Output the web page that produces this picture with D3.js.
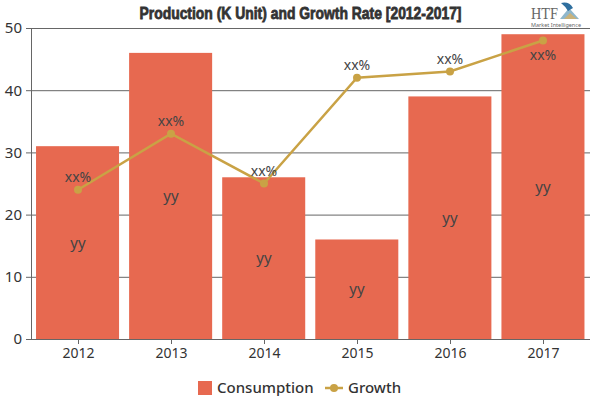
<!DOCTYPE html>
<html>
<head>
<meta charset="utf-8">
<script src="https://cdn.jsdelivr.net/npm/d3@7"></script>
<style>
html, body { margin: 0; padding: 0; background: #fff; }
svg { display: block; }
text { font-family: "Noto Sans", "Open Sans", sans-serif; }
</style>
</head>
<body>
<svg id="chart" width="600" height="400"></svg>
<script>
const years = ["2012", "2013", "2014", "2015", "2016", "2017"];
const consumption = [31, 46, 26, 16, 39, 49];
const growth = [24, 33, 25, 42, 43, 48];
const yTicks = [0, 10, 20, 30, 40, 50];

const BAR = "#e76950";
const LINE = "#c9a245";
const AXIS = "#666";
const TEXT = "#333";

const svg = d3.select("#chart");
const x = d3.scaleBand().domain(years).range([31, 589.5]).paddingInner(0.108).paddingOuter(0.054);
const xp = d3.scalePoint().domain(years).range([78, 543]);
const y = d3.scaleLinear().domain([0, 50]).range([339, 28]);

// grid
svg.append("g").selectAll("line")
    .data(yTicks.filter(d => d > 0))
    .enter().append("line")
    .attr("x1", 31).attr("x2", 590)
    .attr("y1", d => y(d) + 0.5).attr("y2", d => y(d) + 0.5)
    .attr("stroke", AXIS).attr("stroke-width", 1);

// bars
svg.append("g").selectAll("rect")
    .data(years)
    .enter().append("rect")
    .attr("x", d => x(d))
    .attr("width", x.bandwidth())
    .attr("y", (d, i) => y(consumption[i]))
    .attr("height", (d, i) => y(0) - y(consumption[i]))
    .attr("fill", BAR);

// axes
const xAxis = svg.append("g").attr("transform", "translate(0,339)")
    .call(d3.axisBottom(xp).tickSize(5).tickPadding(4));
xAxis.select(".domain").attr("d", "M31,0.5H590").attr("stroke", AXIS);
xAxis.selectAll("line").attr("stroke", AXIS);
xAxis.selectAll("text").attr("font-size", 14).attr("fill", TEXT).attr("font-family", "Noto Sans");

const yAxis = svg.append("g").attr("transform", "translate(31,0)")
    .call(d3.axisLeft(y).tickValues(yTicks).tickSize(5).tickPadding(4));
yAxis.select(".domain").attr("d", "M0.5,28V339").attr("stroke", AXIS);
yAxis.selectAll("line").attr("stroke", AXIS);
yAxis.selectAll("text").attr("font-size", 15).attr("fill", TEXT).attr("font-family", "Noto Sans");

// bar labels
svg.append("g").selectAll("text")
    .data(years)
    .enter().append("text")
    .attr("x", d => xp(d))
    .attr("y", (d, i) => (y(0) + y(consumption[i])) / 2 + 5)
    .attr("text-anchor", "middle")
    .attr("font-size", 15).attr("fill", "#444")
    .text("yy");

// growth line
const line = d3.line().x((d, i) => xp(years[i])).y(d => y(d));
svg.append("path")
    .attr("d", line(growth))
    .attr("fill", "none")
    .attr("stroke", LINE).attr("stroke-width", 2.5);

svg.append("g").selectAll("circle")
    .data(growth)
    .enter().append("circle")
    .attr("cx", (d, i) => xp(years[i]))
    .attr("cy", d => y(d))
    .attr("r", 4)
    .attr("fill", LINE);

// last label sits under its point, the top of the chart leaves no room
svg.append("g").selectAll("text")
    .data(growth)
    .enter().append("text")
    .attr("x", (d, i) => xp(years[i]))
    .attr("y", (d, i) => y(d) + (i === years.length - 1 ? 20 : -8))
    .attr("text-anchor", "middle")
    .attr("font-size", 14).attr("fill", "#444")
    .text("xx%");

// title
svg.append("text")
    .attr("x", 300.5).attr("y", 19)
    .attr("text-anchor", "middle")
    .attr("font-size", 17).attr("font-weight", "bold")
    .attr("fill", "#333").attr("stroke", "#333").attr("stroke-width", 0.8)
    .attr("style", "font-family:'Liberation Sans Narrow','Liberation Sans',sans-serif")
    .attr("textLength", 322).attr("lengthAdjust", "spacingAndGlyphs")
    .text("Production (K Unit) and Growth Rate [2012-2017]");

// logo
const logo = svg.append("g");
logo.append("text").attr("x", 531).attr("y", 19)
    .attr("font-size", 16).attr("fill", "#666")
    .attr("style", "font-family:'Liberation Serif',serif")
    .attr("textLength", 27).attr("lengthAdjust", "spacingAndGlyphs")
    .text("HTF");
logo.append("path").attr("d", "M560,19 L569,8 L579,19 Z").attr("fill", "#8fb7cc");
logo.append("path").attr("d", "M564,19 L570,13 L577,19 Z").attr("fill", "#c9b27a");
logo.append("path").attr("d", "M561,3 Q569,1 573,8 L568,11 Q565,6 561,3 Z").attr("fill", "#2f6f9f");
logo.append("text").attr("x", 531).attr("y", 27)
    .attr("font-size", 4.5).attr("fill", "#666")
    .attr("textLength", 50).attr("lengthAdjust", "spacingAndGlyphs")
    .text("Market Intelligence");

// legend
const legend = svg.append("g");
legend.append("rect").attr("x", 198).attr("y", 381).attr("width", 14).attr("height", 14).attr("fill", BAR);
legend.append("text").attr("x", 217).attr("y", 393)
    .attr("font-size", 15).attr("font-weight", 500).attr("fill", TEXT).text("Consumption");
legend.append("line").attr("x1", 325).attr("x2", 343).attr("y1", 388).attr("y2", 388)
    .attr("stroke", LINE).attr("stroke-width", 2.5);
legend.append("circle").attr("cx", 334).attr("cy", 388).attr("r", 4).attr("fill", LINE);
legend.append("text").attr("x", 348).attr("y", 393)
    .attr("font-size", 15).attr("font-weight", 500).attr("fill", TEXT).text("Growth");
</script>
</body>
</html>
